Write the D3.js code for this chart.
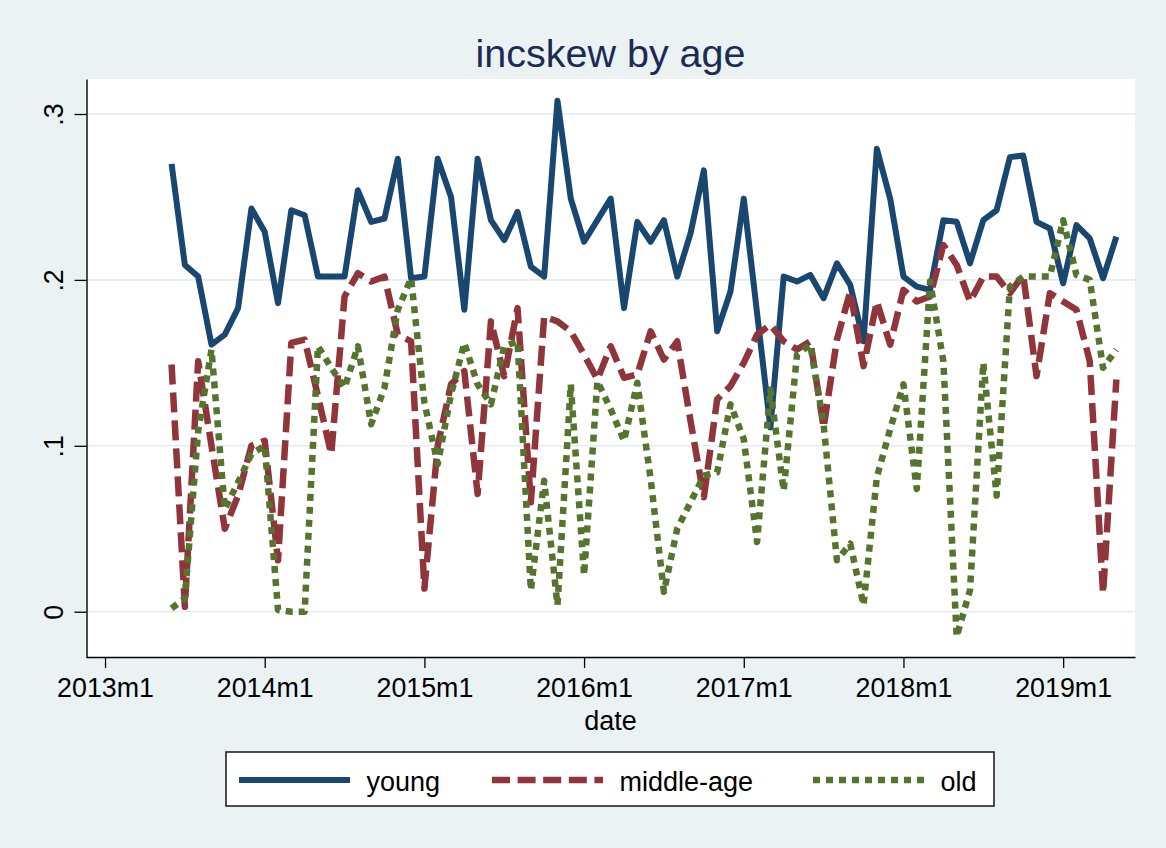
<!DOCTYPE html>
<html>
<head>
<meta charset="utf-8">
<script src="https://cdn.jsdelivr.net/npm/d3@7"></script>
<style>
  body { margin: 0; background: #eaf2f3; }
  svg { display: block; font-family: "Liberation Sans", Arial, Helvetica, sans-serif; }
</style>
</head>
<body>
<div id="main"></div>
<script>
// months of the series (Stata %tm labels)
const dates = [
  '2013m6','2013m7','2013m8','2013m9','2013m10','2013m11','2013m12',
  '2014m1','2014m2','2014m3','2014m4','2014m5','2014m6','2014m7','2014m8','2014m9','2014m10','2014m11','2014m12',
  '2015m1','2015m2','2015m3','2015m4','2015m5','2015m6','2015m7','2015m8','2015m9','2015m10','2015m11','2015m12',
  '2016m1','2016m2','2016m3','2016m4','2016m5','2016m6','2016m7','2016m8','2016m9','2016m10','2016m11','2016m12',
  '2017m1','2017m2','2017m3','2017m4','2017m5','2017m6','2017m7','2017m8','2017m9','2017m10','2017m11','2017m12',
  '2018m1','2018m2','2018m3','2018m4','2018m5','2018m6','2018m7','2018m8','2018m9','2018m10','2018m11','2018m12',
  '2019m1','2019m2','2019m3','2019m4','2019m5'
]

const young = [0.270,0.209,0.202,0.161,0.167,0.183,0.243,0.229,0.186,0.242,
               0.239,0.202,0.202,0.202,0.254,0.235,0.237,0.273,0.201,0.202,
               0.273,0.250,0.182,0.273,0.236,0.224,0.241,0.208,0.202,0.308,
               0.249,0.223,0.236,0.249,0.183,0.235,0.223,0.236,0.202,0.228,
               0.266,0.169,0.193,0.249,0.180,0.111,0.202,0.199,0.203,0.189,
               0.210,0.197,0.163,0.279,0.249,0.202,0.196,0.194,0.236,0.235,
               0.210,0.236,0.242,0.274,0.275,0.235,0.231,0.198,0.233,0.225,
               0.201,0.226]

const middle = [0.149,0.003,0.151,0.100,0.050,0.070,0.100,0.103,0.031,0.162,
                0.164,0.130,0.095,0.190,0.204,0.199,0.202,0.167,0.163,0.014,
                0.100,0.137,0.145,0.071,0.175,0.142,0.183,0.066,0.178,0.175,
                0.169,0.155,0.140,0.160,0.141,0.143,0.169,0.152,0.163,0.115,
                0.069,0.128,0.136,0.150,0.167,0.173,0.163,0.158,0.163,0.111,
                0.164,0.193,0.148,0.187,0.161,0.194,0.187,0.190,0.221,0.209,
                0.187,0.202,0.202,0.192,0.203,0.142,0.192,0.187,0.182,0.151,
                0.011,0.140]

const old = [0.002,0.008,0.109,0.158,0.062,0.078,0.095,0.100,0.001,0.000,
             0.000,0.160,0.147,0.135,0.160,0.113,0.135,0.182,0.201,0.126,
             0.089,0.131,0.162,0.137,0.125,0.160,0.163,0.013,0.079,0.004,
             0.137,0.022,0.139,0.122,0.103,0.138,0.080,0.012,0.050,0.066,
             0.082,0.084,0.125,0.104,0.042,0.134,0.073,0.155,0.161,0.113,
             0.031,0.041,0.004,0.081,0.110,0.137,0.074,0.199,0.151,-0.015,
             0.013,0.150,0.070,0.196,0.202,0.202,0.202,0.236,0.203,0.200,
             0.147,0.158]

const seriesNames = ['young', 'middle-age', 'old']
const xTickLabels = ['2013m1','2014m1','2015m1','2016m1','2017m1','2018m1','2019m1']
const yTickValues = [0, 0.1, 0.2, 0.3]

// "2013m6" -> months since 2013m1
const monthIndex = s => {
    let [y, m] = s.split('m').map(Number)
    return (y - 2013) * 12 + (m - 1)
}

const w = 1166
const h = 848
const plot = { left: 86, right: 1135, top: 79, bottom: 657 }
const font = '"Liberation Sans", Arial, Helvetica, sans-serif'

const styles = [
    { color: '#1a476f', dash: null,   keyDash: null,    width: 6 },
    { color: '#90353b', dash: '20,8', keyDash: '18,7.6', width: 6.5 },
    { color: '#55752f', dash: '7,6',  keyDash: '7,6',    width: 6.5 }
]

let svg = d3.select('#main')
        .append('svg')
        .attr('width', w)
        .attr('height', h)

svg.append('rect')
    .attr('width', w)
    .attr('height', h)
    .attr('fill', '#eaf2f3')

svg.append('rect')          // plot region
    .attr('x', plot.left)
    .attr('y', plot.top)
    .attr('width', plot.right - plot.left)
    .attr('height', plot.bottom - plot.top)
    .attr('fill', '#ffffff')

// scales //
const xScale = d3.scaleLinear()
        .domain([-1.43, 77.4])
        .range([plot.left, plot.right])

const yScale = d3.scaleLinear()
        .domain([-0.0273, 0.3211])
        .range([plot.bottom, plot.top])

// gridlines
svg.append('g')
    .selectAll('line')
    .data(yTickValues)
    .enter()
    .append('line')
    .attr('x1', plot.left)
    .attr('x2', plot.right)
    .attr('y1', d => yScale(d))
    .attr('y2', d => yScale(d))
    .attr('stroke', '#e3edf0')
    .attr('stroke-width', 1.6)

// lines //
const line = d3.line()
        .x((d, i) => xScale(monthIndex(dates[i])))
        .y(d => yScale(d))

const allSeries = [young, middle, old]

svg.append('g')
    .selectAll('path')
    .data(allSeries)
    .enter()
    .append('path')
    .attr('d', d => line(d))
    .attr('fill', 'none')
    .attr('stroke', (d, i) => styles[i].color)
    .attr('stroke-width', (d, i) => styles[i].width)
    .attr('stroke-dasharray', (d, i) => styles[i].dash)
    .attr('stroke-linejoin', 'round')

// x axis //
const xAxis = d3.axisBottom(xScale)
        .tickValues(xTickLabels.map(monthIndex))
        .tickFormat((d, i) => xTickLabels[i])
        .tickSize(11)
        .tickSizeOuter(0)

let gx = svg.append('g')
    .attr('transform', 'translate(0,' + plot.bottom + ')')
    .call(xAxis)

gx.select('.domain').attr('stroke', '#000').attr('stroke-width', 1.4)
gx.selectAll('.tick line').attr('stroke', '#000').attr('stroke-width', 1.3)
gx.selectAll('.tick text')
    .attr('y', 40)
    .attr('dy', null)
    .attr('fill', '#000')
    .style('font-family', font)
    .style('font-size', '26.8px')

svg.append('text')          // x label
    .attr('x', (plot.left + plot.right) / 2)
    .attr('y', 730)
    .attr('text-anchor', 'middle')
    .style('font-size', '27px')
    .text('date')

// y axis //
const yAxis = d3.axisLeft(yScale)
        .tickValues(yTickValues)
        .tickFormat(d => d === 0 ? '0' : d3.format('.1f')(d).replace(/^0/, ''))
        .tickSize(12)
        .tickSizeOuter(0)

let gy = svg.append('g')
    .attr('transform', 'translate(' + (plot.left + 0.5) + ',0)')
    .call(yAxis)

gy.select('.domain').attr('stroke', '#000').attr('stroke-width', 1.4)
gy.selectAll('.tick line').attr('stroke', '#000').attr('stroke-width', 1.3)
gy.selectAll('.tick text')
    .attr('x', null)
    .attr('dy', null)
    .attr('transform', 'translate(-23.5,0) rotate(-90)')
    .attr('text-anchor', 'middle')
    .attr('fill', '#000')
    .style('font-family', font)
    .style('font-size', '26.8px')

// title //
svg.append('text')
    .attr('x', (plot.left + plot.right) / 2)
    .attr('y', 66.5)
    .attr('text-anchor', 'middle')
    .attr('fill', '#1c2b55')
    .style('font-size', '39.5px')
    .text('incskew by age')

// legend //
const legend = svg.append('g')

legend.append('rect')
    .attr('x', 226)
    .attr('y', 752)
    .attr('width', 768)
    .attr('height', 54)
    .attr('fill', '#ffffff')
    .attr('stroke', '#222')
    .attr('stroke-width', 1.6)

const keyX = [239, 492, 813]      // left end of each key line
const keyLen = 111

let item = legend.selectAll('.item')
    .data(seriesNames)
    .enter()
    .append('g')
    .attr('class', 'item')
    .attr('transform', (d, i) => 'translate(' + keyX[i] + ',780)')

item.append('line')
    .attr('x1', 0)
    .attr('x2', keyLen)
    .attr('stroke', (d, i) => styles[i].color)
    .attr('stroke-width', (d, i) => styles[i].width)
    .attr('stroke-dasharray', (d, i) => styles[i].keyDash)

item.append('text')
    .attr('x', keyLen + 16.5)
    .attr('y', 11)
    .style('font-size', '27px')
    .text(d => d)
</script>
</body>
</html>
